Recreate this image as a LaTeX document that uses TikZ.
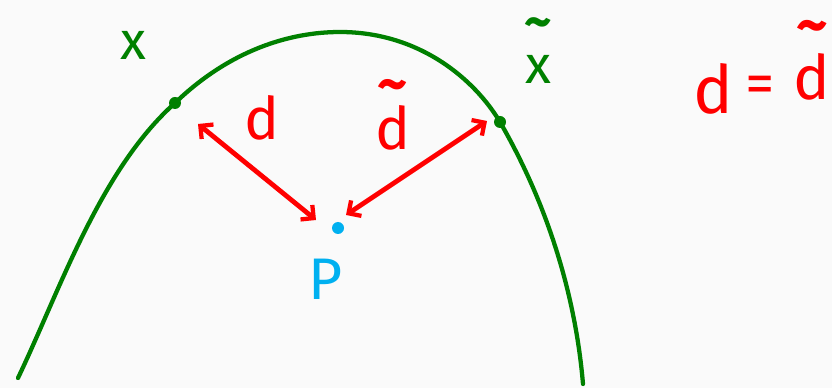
\documentclass[tikz,border=0pt]{standalone}
\usepackage{fontspec}
\setsansfont{Fira Sans}
\usetikzlibrary{arrows.meta}
\definecolor{cgreen}{RGB}{0,128,0}
\definecolor{cred}{RGB}{255,0,0}
\definecolor{ccyan}{RGB}{0,176,240}
\definecolor{cbg}{RGB}{250,250,250}
\newcommand{\tl}{{\bfseries\textasciitilde}}
\begin{document}
\begin{tikzpicture}[x=0.75pt,y=-0.75pt,
  curve/.style={draw=cgreen,line width=3.2pt,line cap=round,line join=round},
  dist/.style={draw=cred,line width=3.6pt,line cap=round,{Straight Barb[length=7pt,width=14pt,line width=3.2pt]}-{Straight Barb[length=7pt,width=14pt,line width=3.2pt]}},
  ptdot/.style={circle,fill=cgreen,inner sep=0pt,minimum size=9pt},
  lbl/.style={font=\sffamily\fontsize{44}{44}\selectfont,inner sep=0pt,anchor=base},
  xlbl/.style={font=\sffamily\fontsize{40}{40}\selectfont,inner sep=0pt,anchor=base},
  acc/.style={align=center,inner sep=0pt,anchor=south}]
\useasboundingbox[fill=cbg] (0,0) rectangle (832,388);
% curve
\draw[curve] (18,378) .. controls (60,290) and (100,170) .. (175,103)
  .. controls (230,50) and (290,32) .. (340,32)
  .. controls (420,32) and (475,80) .. (500,122)
  .. controls (545,200) and (575,290) .. (583,384);
% points
\node[ptdot] (x) at (175,103) {};
\node[ptdot] (xt) at (500,122) {};
\node[circle,fill=ccyan,inner sep=0pt,minimum size=9pt] (p) at (338,228) {};
% labels
\node[xlbl,text=cgreen] (xl) at (133,60) {x};
\node[acc,text=cgreen,font=\sffamily\fontsize{40}{33}\selectfont] (xtl) at (538,84) {\tl\\x};
\node[lbl,text=ccyan] (pl) at (326,300) {P};
\node[lbl,text=cred] (dl) at (262,140) {d};
\node[acc,text=cred,font=\sffamily\fontsize{44}{30}\selectfont] (dtl) at (393,150) {\tl\\d};
\node[lbl,text=cred,font=\sffamily\fontsize{50}{50}\selectfont] (eq1) at (713,114) {d};
\node[lbl,text=cred,font=\sffamily\fontsize{44}{44}\selectfont] (eq2) at (760,104) {=};
\node[acc,text=cred,font=\sffamily\fontsize{46}{41}\selectfont] (eq3) at (812,101) {\tl\\d};
% distance arrows
\coordinate (a1) at (198,124);
\coordinate (a2) at (316,220);
\coordinate (b1) at (487,121);
\coordinate (b2) at (346,215);
\draw[dist] (a1) -- (a2);
\draw[dist] (b2) -- (b1);
\end{tikzpicture}
\end{document}
